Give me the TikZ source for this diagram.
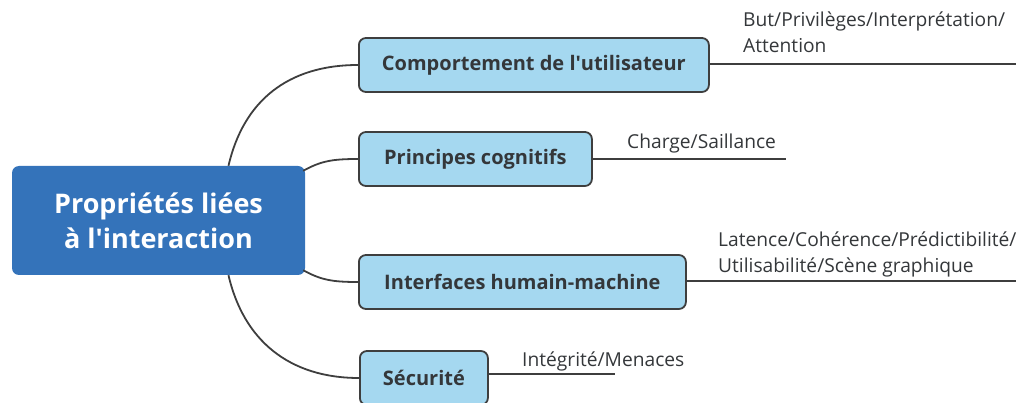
\documentclass[tikz,border=0pt]{standalone}
\usepackage{fontspec}
\setmainfont{Open Sans}
\definecolor{rootblue}{RGB}{52,115,186}
\definecolor{childblue}{RGB}{165,216,240}
\definecolor{edgegray}{RGB}{62,62,62}
\definecolor{txtgray}{RGB}{52,55,58}
\begin{document}
\begin{tikzpicture}[x=1pt,y=-1pt,
  rootbox/.style={rectangle, rounded corners=7pt, fill=rootblue, text=white,
    font=\fontsize{27}{35}\selectfont\bfseries, align=center, inner sep=0pt,
    minimum width=293pt, minimum height=109pt},
  childbox/.style={rectangle, rounded corners=7pt, draw=edgegray, line width=1.8pt,
    fill=childblue, text=txtgray, font=\fontsize{20}{24}\selectfont\bfseries,
    inner sep=0pt, minimum height=54pt, anchor=west},
  leaftext/.style={font=\fontsize{19.2}{26}\selectfont, text=txtgray, align=left,
    anchor=south west, inner sep=0pt, text depth=0pt},
  conn/.style={draw=edgegray, line width=1.8pt},
  leafline/.style={draw=edgegray, line width=1.4pt}
]
\useasboundingbox (0,0) rectangle (1023,403);

\node[rootbox] (root) at (158.5,220.5) {Propriétés liées\\à l\textquotesingle interaction};

\node[childbox, minimum width=350pt] (c1) at (358,65) {Comportement de l\textquotesingle utilisateur};
\node[childbox, minimum width=233pt] (c2) at (358,159) {Principes cognitifs};
\node[childbox, minimum width=327pt] (c3) at (358,282) {Interfaces humain-machine};
\node[childbox, minimum width=128pt] (c4) at (359,378) {Sécurité};

% connectors from root
\draw[conn] ([xshift=70pt]root.north) .. controls +(15,-65) and +(-70,0) .. (c1.west);
\draw[conn] ([xshift=-2pt,yshift=-5pt]root.north east) .. controls +(18,-10) and +(-25,0) .. (c2.west);
\draw[conn] ([xshift=-2pt,yshift=5pt]root.south east) .. controls +(18,10) and +(-25,0) .. (c3.west);
\draw[conn] ([xshift=70pt]root.south) .. controls +(15,65) and +(-70,0) .. (c4.west);

% leaf lines
\coordinate (e1) at (1016,64);
\coordinate (e2) at (786,159);
\coordinate (e3) at (1016,281);
\coordinate (e4) at (615,374);
\draw[leafline] ([yshift=1pt]c1.east) -- ([yshift=1pt]c1.east -| e1);
\draw[leafline] (c2.east) -- (c2.east -| e2);
\draw[leafline] ([yshift=1pt]c3.east) -- ([yshift=1pt]c3.east -| e3);
\draw[leafline] ([yshift=4pt]c4.east) -- ([yshift=4pt]c4.east -| e4);

% leaf texts
\node[leaftext] (t1) at (743,53) {But/Privilèges/Interprétation/\\Attention};
\node[leaftext] (t2) at (627,149) {Charge/Saillance};
\node[leaftext] (t3) at (718,272.5) {Latence/Cohérence/Prédictibilité/\\Utilisabilité/Scène graphique};
\node[leaftext] (t4) at (522,366.5) {Intégrité/Menaces};
\end{tikzpicture}
\end{document}
